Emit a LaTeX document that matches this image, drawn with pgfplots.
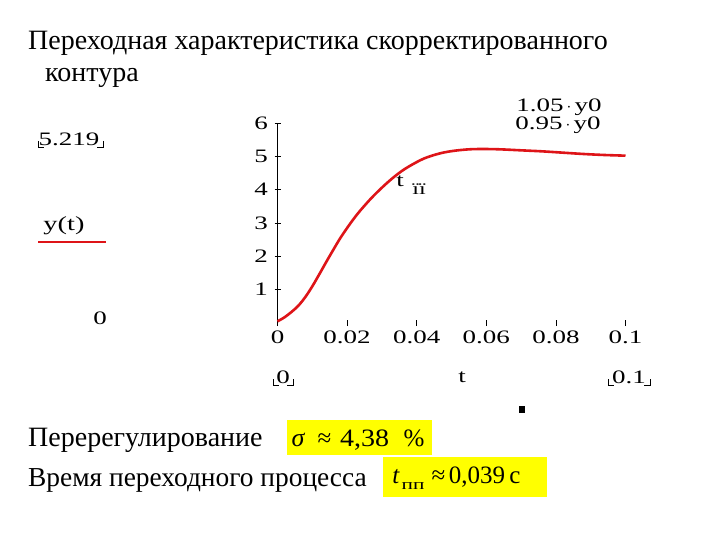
\documentclass[border=0pt]{standalone}
\usepackage{pgfplots}
\pgfplotsset{compat=1.18}
\usepackage{fontspec}
\setmainfont{Liberation Serif}
\newfontfamily\mc[FakeStretch=1.42]{Liberation Serif}
\newfontfamily\eqf[FakeStretch=1.12]{Liberation Serif}
\definecolor{curvered}{RGB}{222,20,24}
\definecolor{hlyellow}{RGB}{255,255,0}
\newcommand{\fs}[1]{\fontsize{#1}{#1}\selectfont}
\begin{document}
\begin{tikzpicture}
\path[use as bounding box, fill=white] (0,0) rectangle (720pt,-540pt);
% title
\node[anchor=base west, inner sep=0pt] at (28pt,-50pt) {\fs{28}Переходная характеристика скорректированного};
\node[anchor=base west, inner sep=0pt] at (45pt,-82pt) {\fs{28}контура};
% left mathcad labels
\node[anchor=center, inner sep=0pt] at (69pt,-139pt) {\mc\fs{19}5.219};
\draw[black, line width=0.6pt] (38pt,-141pt) -- (38pt,-147pt) -- (44pt,-147pt);
\draw[black, line width=0.6pt] (103pt,-141pt) -- (103pt,-147pt) -- (97pt,-147pt);
\node[anchor=center, inner sep=0pt] at (64pt,-226pt) {\mc\fs{20}y(t)};
\draw[curvered, line width=1.6pt] (38pt,-242pt) -- (106pt,-242pt);
\node[anchor=center, inner sep=0pt] at (100pt,-318pt) {\mc\fs{19}0};
% bottom mathcad labels
\node[anchor=center, inner sep=0pt] at (283pt,-377pt) {\mc\fs{19}0};
\draw[black, line width=0.6pt] (273pt,-379pt) -- (273pt,-385pt) -- (279pt,-385pt);
\draw[black, line width=0.6pt] (293pt,-379pt) -- (293pt,-385pt) -- (287pt,-385pt);
\node[anchor=center, inner sep=0pt] at (462pt,-377pt) {\mc\fs{19}t};
\node[anchor=center, inner sep=0pt] at (629pt,-377pt) {\mc\fs{19}0.1};
\draw[black, line width=0.6pt] (608pt,-379pt) -- (608pt,-385pt) -- (614pt,-385pt);
\draw[black, line width=0.6pt] (650pt,-379pt) -- (650pt,-385pt) -- (644pt,-385pt);
\fill[black] (519pt,-406pt) rectangle (525pt,-413pt);
% plot
\begin{axis}[
  at={(277.5pt,-323pt)}, anchor=south west,
  scale only axis, width=348pt, height=200pt,
  xmin=0, xmax=0.1, ymin=0, ymax=6,
  axis lines*=left,
  x axis line style={draw=none},
  y axis line style={black, line width=0.8pt},
  xtick={0,0.02,0.04,0.06,0.08,0.1},
  xticklabels={0,0.02,0.04,0.06,0.08,0.1},
  ytick={1,2,3,4,5,6},
  yticklabels={1,2,3,4,5,6},
  tick align=center, major tick length=6pt,
  tick style={black, line width=0.8pt},
  tick label style={font=\mc\fs{19}},
  xticklabel style={yshift=-1pt},
  yticklabel style={xshift=-3pt},
  clip=false,
]
\addplot[curvered, line width=2.6pt, smooth, tension=0.55] coordinates {
(0,0.05) (0.002,0.17) (0.004,0.33) (0.006,0.52) (0.008,0.78) (0.010,1.1)
(0.012,1.46) (0.014,1.83) (0.016,2.19) (0.018,2.54) (0.020,2.85) (0.022,3.14)
(0.024,3.40) (0.027,3.75) (0.030,4.06) (0.033,4.34) (0.036,4.58) (0.039,4.77)
(0.042,4.93) (0.045,5.04) (0.048,5.12) (0.051,5.17) (0.055,5.21) (0.059,5.22)
(0.064,5.21) (0.070,5.18) (0.076,5.15) (0.082,5.11) (0.088,5.07) (0.094,5.04)
(0.1,5.02)
};
\end{axis}
% annotations in plot
\node[anchor=center, inner sep=0pt] at (559pt,-107pt) {\mc\fs{19}1.05\,$\cdot$\,y0};
\node[anchor=center, inner sep=0pt] at (558pt,-125pt) {\mc\fs{19}0.95\,$\cdot$\,y0};
\node[anchor=center, inner sep=0pt] at (400pt,-181pt) {\mc\fs{19}t};
\node[anchor=center, inner sep=0pt] at (419pt,-189pt) {\mc\fs{17}ïï};
% bottom text
\node[anchor=base west, inner sep=0pt] at (28pt,-446pt) {\fs{28}Перерегулирование};
\node[anchor=base west, inner sep=0pt] at (28pt,-486pt) {\fs{27.4}Время переходного процесса};
% sigma box
\fill[hlyellow] (287pt,-420pt) rectangle (432pt,-455pt);
\node[anchor=base, inner sep=0pt] at (298.5pt,-446.7pt) {\fs{26}\textit{σ}};
\node[anchor=base, inner sep=0pt] at (324.5pt,-446.7pt) {\fs{25}≈};
\node[anchor=base, inner sep=0pt] at (364.5pt,-446.7pt) {\eqf\fs{25}4,38};
\node[anchor=base, inner sep=0pt] at (414pt,-446.7pt) {\fs{25}\%};
% t box
\fill[hlyellow] (383pt,-457pt) rectangle (547pt,-497pt);
\node[anchor=base, inner sep=0pt] at (396pt,-483pt) {\fs{25}\textit{t}};
\node[anchor=base, inner sep=0pt] at (413pt,-489pt) {\mc\fs{15}пп};
\node[anchor=base, inner sep=0pt] at (438.5pt,-483pt) {\fs{25}≈};
\node[anchor=base, inner sep=0pt] at (477pt,-483pt) {\fs{25}0,039};
\node[anchor=base, inner sep=0pt] at (515pt,-483pt) {\fs{25}с};
\end{tikzpicture}
\end{document}
